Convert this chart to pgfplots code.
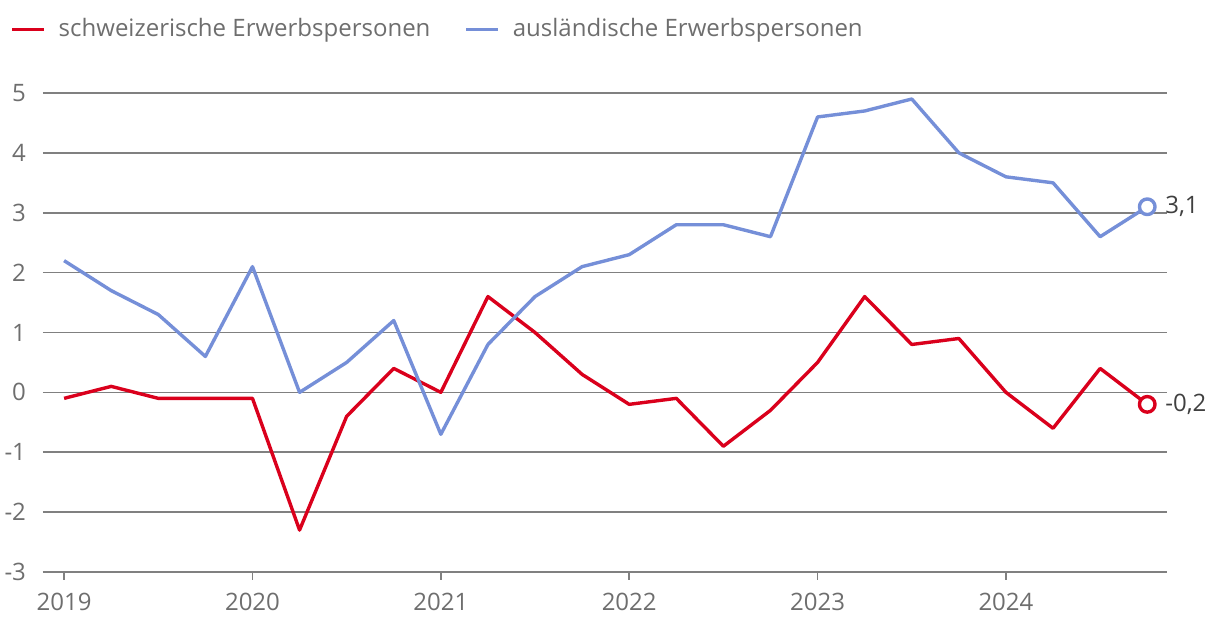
\documentclass[border=0pt]{standalone}
\usepackage{fontspec}
\setmainfont{Open Sans}
\usepackage{pgfplots}
\pgfplotsset{compat=1.18}

\definecolor{chred}{RGB}{218,0,28}
\definecolor{chblue}{RGB}{117,143,216}
\definecolor{txtgray}{RGB}{110,110,110}
\definecolor{gridgray}{RGB}{128,128,128}

\begin{document}
\begin{tikzpicture}
% page size: 1220x640 px at 0.5pt per px
\useasboundingbox (-21.5pt,-34pt) rectangle (588.5pt,286pt);
\begin{axis}[
    at={(0,0)}, anchor=south west,
    scale only axis,
    width=562pt, height=239.5pt,
    xmin=2018.888, xmax=2024.855,
    ymin=-3, ymax=5,
    ytick={-3,-2,...,5},
    xtick={2019,2020,2021,2022,2023,2024},
    xticklabel={\pgfmathprintnumber[1000 sep={},precision=0]{\tick}},
    /pgf/number format/assume math mode=true,
    ymajorgrids=true,
    grid style={gridgray, line width=0.75pt},
    axis x line*=bottom,
    axis y line*=left,
    y axis line style={draw=none},
    ytick style={draw=none},
    x axis line style={gridgray, line width=0.75pt, -},
    xtick style={gridgray, line width=0.75pt},
    major tick length=4pt,
    tick align=outside,
    ticklabel style={font=\fontsize{12}{14}\selectfont, text=txtgray},
    xticklabel style={yshift=-3pt},
    yticklabel style={xshift=-1pt},
    clip=false,
    legend columns=2,
    legend style={
        at={(-0.0294,1.133)}, anchor=west,
        draw=none, fill=none, inner sep=0pt,
        nodes={inner sep=0pt},
        font=\fontsize{12}{14}\selectfont, text=txtgray,
        /tikz/every odd column/.append style={column sep=6.5pt},
        /tikz/every even column/.append style={column sep=17pt},
    },
    legend image code/.code={\draw[#1, line width=1.7pt] (0pt,0pt) -- (16pt,0pt);},
]
\addplot[chred, line width=1.7pt, line join=round, mark=*, mark indices={24},
    mark options={fill=white, draw=chred, line width=1.7pt}, mark size=3.9pt]
coordinates {
(2019.00,-0.1)(2019.25,0.1)(2019.50,-0.1)(2019.75,-0.1)
(2020.00,-0.1)(2020.25,-2.3)(2020.50,-0.4)(2020.75,0.4)
(2021.00,0.0)(2021.25,1.6)(2021.50,1.0)(2021.75,0.3)
(2022.00,-0.2)(2022.25,-0.1)(2022.50,-0.9)(2022.75,-0.3)
(2023.00,0.5)(2023.25,1.6)(2023.50,0.8)(2023.75,0.9)
(2024.00,0.0)(2024.25,-0.6)(2024.50,0.4)(2024.75,-0.2)
};
\addplot[chblue, line width=1.7pt, line join=round, mark=*, mark indices={24},
    mark options={fill=white, draw=chblue, line width=1.7pt}, mark size=3.9pt]
coordinates {
(2019.00,2.2)(2019.25,1.7)(2019.50,1.3)(2019.75,0.6)
(2020.00,2.1)(2020.25,0.0)(2020.50,0.5)(2020.75,1.2)
(2021.00,-0.7)(2021.25,0.8)(2021.50,1.6)(2021.75,2.1)
(2022.00,2.3)(2022.25,2.8)(2022.50,2.8)(2022.75,2.6)
(2023.00,4.6)(2023.25,4.7)(2023.50,4.9)(2023.75,4.0)
(2024.00,3.6)(2024.25,3.5)(2024.50,2.6)(2024.75,3.1)
};
\legend{schweizerische Erwerbspersonen, ausländische Erwerbspersonen}
\node[anchor=west, font=\fontsize{12}{14}\selectfont, text=black!75, xshift=5.5pt]
    at (axis cs:2024.75,3.1) {3,1};
\node[anchor=west, font=\fontsize{12}{14}\selectfont, text=black!75, xshift=5.5pt]
    at (axis cs:2024.75,-0.2) {-0,2};
\end{axis}
\end{tikzpicture}
\end{document}
